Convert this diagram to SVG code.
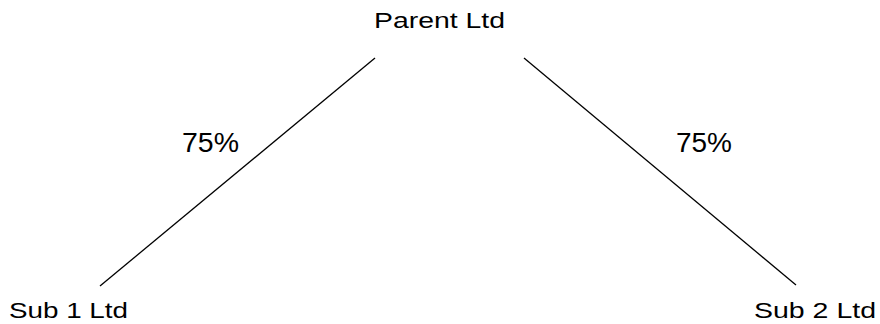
<svg xmlns="http://www.w3.org/2000/svg" width="880" height="324" viewBox="0 0 880 324">
<style>
text{font-family:"Comic Sans MS","Liberation Sans","DejaVu Sans",sans-serif;fill:#000}
.n{font-size:22px}
.p{font-size:27px}
line{stroke:#000;stroke-width:1.3}
</style>
<rect width="880" height="324" fill="#fff"/>
<g id="connectors">
<line x1="375" y1="58" x2="100" y2="286"/>
<line x1="524" y1="58" x2="796" y2="285"/>
<text class="p" x="182" y="152" textLength="57" lengthAdjust="spacingAndGlyphs">75%</text>
<text class="p" x="676" y="152" textLength="56" lengthAdjust="spacingAndGlyphs">75%</text>
</g>
<g id="parent"><text class="n" x="374" y="28" textLength="131" lengthAdjust="spacingAndGlyphs">Parent Ltd</text></g>
<g id="sub1"><text class="n" x="9" y="318" textLength="119" lengthAdjust="spacingAndGlyphs">Sub 1 Ltd</text></g>
<g id="sub2"><text class="n" x="754" y="318" textLength="122" lengthAdjust="spacingAndGlyphs">Sub 2 Ltd</text></g>
</svg>
